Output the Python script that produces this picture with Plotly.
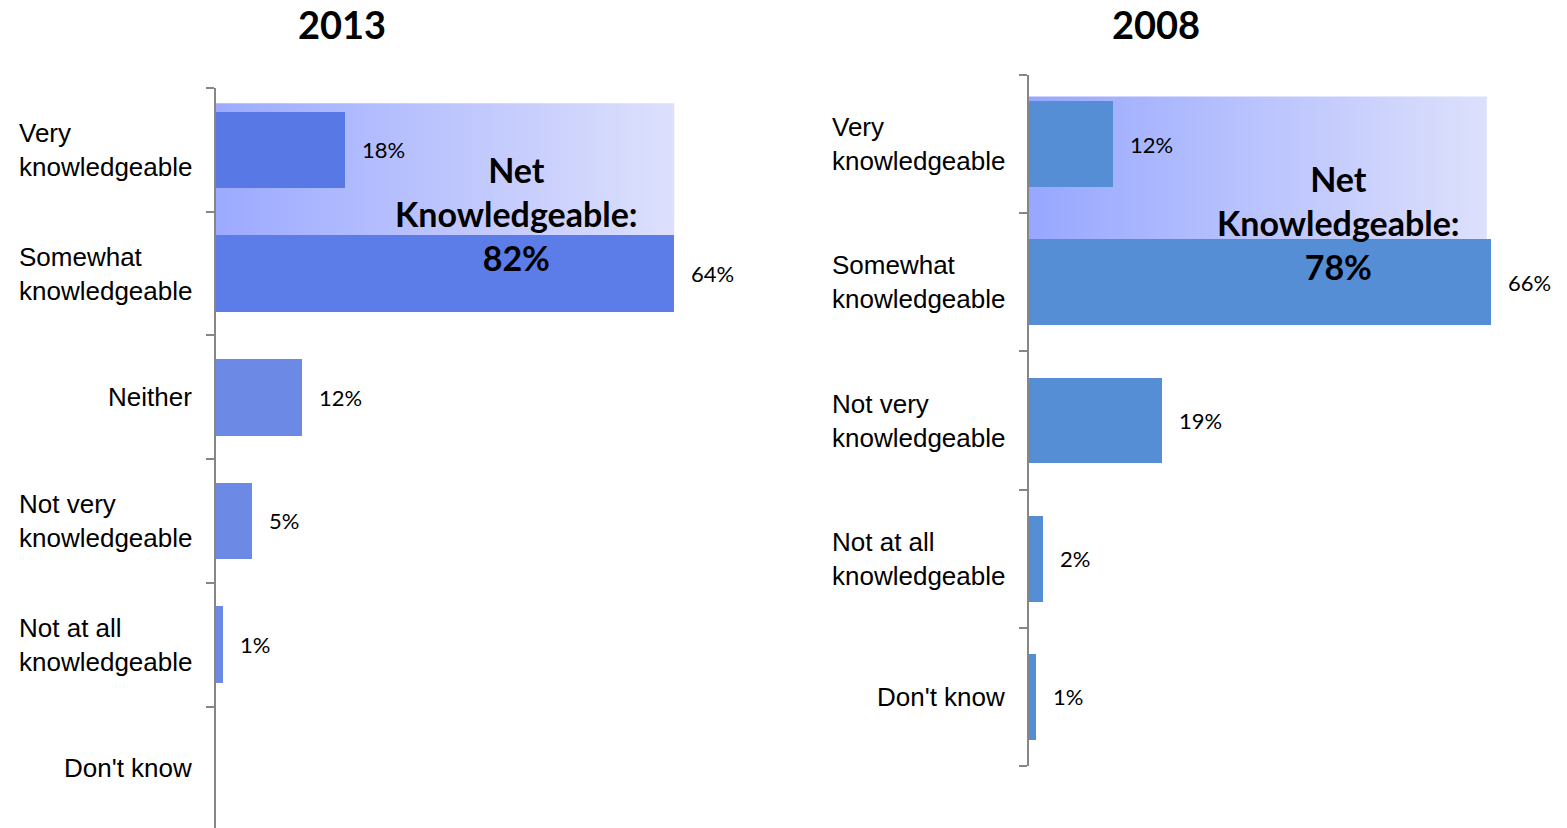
import plotly.graph_objects as go

# ---------------- data ----------------
cats_2013 = ["Very<br>knowledgeable", "Somewhat<br>knowledgeable", "Neither",
             "Not very<br>knowledgeable", "Not at all<br>knowledgeable", "Don't know"]
vals_2013 = [18, 64, 12, 5, 1, None]
colors_2013 = ["#5878E6", "#5C7CE7", "#6C89E6", "#6C89E6", "#6C89E6", "#6C89E6"]

cats_2008 = ["Very<br>knowledgeable", "Somewhat<br>knowledgeable",
             "Not very<br>knowledgeable", "Not at all<br>knowledgeable", "Don't know"]
vals_2008 = [12, 66, 19, 2, 1]
color_2008 = "#558ED5"

net_2013 = 82
net_2008 = 78
titles = ["2013", "2008"]

# ---------------- layout constants ----------------
W, H = 1567, 828
OFF = 0  # body margin removed via post_script
GRAY = "#868686"
LABEL_FONT = dict(family="Liberation Sans, Arial", size=26, color="#000")
VAL_FONT = dict(family="Lato", size=22, color="#000")
XMAX = 75

def px_x(p):
    return (p - OFF) / W

def px_y(p):
    return 1 - (p - OFF) / H

fig = go.Figure()

panels = [
    dict(cats=cats_2013, vals=vals_2013, colors=colors_2013,
         xl=216, ppu=7.16, ytop=88, ybot=None, base=("x", "y"), over=("x2", "y2"),
         box_x1=64, box_top=-0.376, box_bot=0.69,
         box_scale=[[0, "#9CAAFF"], [1, "#DDE0FC"]],
         net=net_2013, net_xy=(516, 213), title=titles[0], title_x=342),
    dict(cats=cats_2008, vals=vals_2008, colors=[color_2008] * len(vals_2008),
         xl=1029, ppu=7.0, ytop=75, ybot=766, base=("x3", "y3"), over=("x4", "y4"),
         box_x1=65.4, box_top=-0.344, box_bot=0.69,
         box_scale=[[0, "#97A7FF"], [1, "#DDE0FC"]],
         net=net_2008, net_xy=(1338, 223), title=titles[1], title_x=1156),
]

annotations = []
layout_axes = {}
for k, p in enumerate(panels):
    n = len(p["cats"])
    ypos = list(range(n))
    bx, by = p["base"]
    ox, oy = p["over"]

    # gradient "Net" box (base subplot, drawn beneath the bars)
    fig.add_trace(go.Scatter(
        x=[0, p["box_x1"], p["box_x1"], 0, 0],
        y=[p["box_top"], p["box_top"], p["box_bot"], p["box_bot"], p["box_top"]],
        mode="lines", line=dict(width=0), fill="toself",
        fillgradient=dict(type="horizontal", colorscale=p["box_scale"]),
        hoverinfo="skip", showlegend=False, xaxis=bx, yaxis=by))

    # bars (overlay subplot)
    fig.add_trace(go.Bar(
        x=[v if v is not None else 0 for v in p["vals"]], y=ypos, orientation="h",
        marker=dict(color=p["colors"], line=dict(width=0)), width=0.62,
        showlegend=False, xaxis=ox, yaxis=oy))

    # value labels
    for i, v in enumerate(p["vals"]):
        if v is None:
            continue
        annotations.append(dict(x=v, y=i, xref=ox, yref=oy, text=f"{v}%",
                                showarrow=False, xanchor="left", xshift=15,
                                font=VAL_FONT))
    # category labels
    for i, c in enumerate(p["cats"]):
        annotations.append(dict(x=px_x(p["xl"]), y=i, xref="paper", yref=oy, text=c,
                                showarrow=False, xanchor="right", xshift=-22,
                                align="left", font=LABEL_FONT))
    # net annotation
    annotations.append(dict(x=px_x(p["net_xy"][0]), y=px_y(p["net_xy"][1]),
                            xref="paper", yref="paper",
                            text=f"Net<br>Knowledgeable:<br>{p['net']}%",
                            showarrow=False, xanchor="center", yanchor="middle",
                            font=dict(family="Lato", size=34, color="#000", weight="bold")))
    # title
    annotations.append(dict(x=px_x(p["title_x"]), y=1, xref="paper", yref="paper",
                            text=f"<b>{p['title']}</b>", showarrow=False,
                            xanchor="center", yanchor="top", borderpad=0,
                            font=dict(family="Lato", size=38, color="#000")))

    xdom = [px_x(p["xl"]), px_x(p["xl"] + p["ppu"] * XMAX)]
    ydom = [0 if p["ybot"] is None else px_y(p["ybot"]), px_y(p["ytop"])]
    yrange = [n - 0.5, -0.5]
    if p["ybot"] is None:
        # left panel: the axis runs off the bottom of the figure
        span_px = H - (p["ytop"] - OFF)
        yrange = [-0.5 + span_px / 123.7, -0.5]
    bxn = "xaxis" + bx[1:]
    byn = "yaxis" + by[1:]
    oxn = "xaxis" + ox[1:]
    oyn = "yaxis" + oy[1:]
    layout_axes[bxn] = dict(domain=xdom, range=[0, XMAX], visible=False, anchor=by)
    layout_axes[byn] = dict(domain=ydom, range=yrange, anchor=bx, showline=True,
                            linecolor=GRAY, linewidth=1.5, ticks="outside",
                            tickvals=[i - 0.5 for i in range(n + 1)], ticklen=8,
                            tickcolor=GRAY, tickwidth=1.5, showticklabels=False,
                            showgrid=False, zeroline=False)
    layout_axes[oxn] = dict(overlaying=bx, range=[0, XMAX], visible=False, anchor=oy)
    layout_axes[oyn] = dict(overlaying=by, range=yrange, visible=False, anchor=ox)

fig.update_layout(
    width=W, height=H, margin=dict(l=0, r=0, t=0, b=0),
    paper_bgcolor="white", plot_bgcolor="rgba(0,0,0,0)",
    showlegend=False, annotations=annotations, bargap=0,
    hovermode=False,
    **layout_axes)

fig.write_html("out.html", config={"displayModeBar": False},
               post_script="document.body.style.margin='0';document.body.style.overflow='hidden';")
